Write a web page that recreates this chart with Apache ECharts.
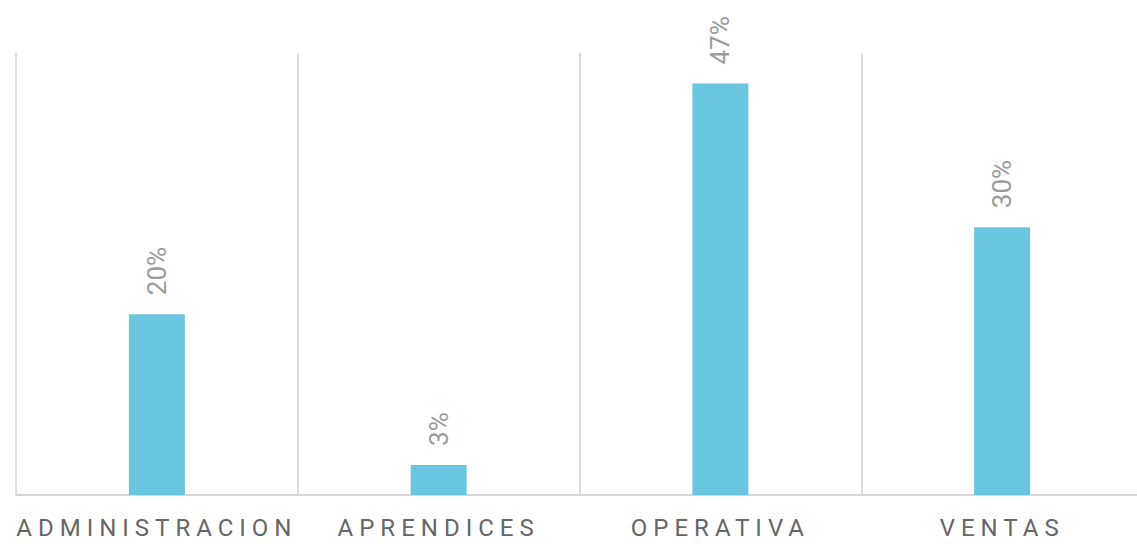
<!DOCTYPE html>
<html>
<head>
<meta charset="utf-8">
<script src="https://cdn.jsdelivr.net/npm/echarts@6/dist/echarts.min.js"></script>
<style>
  html, body { margin: 0; padding: 0; background: #fff; }
  #chart { width: 1137px; height: 544px; }
  /* spaced-out category labels */
  #chart text[fill="#666666"] { letter-spacing: 6px; }
</style>
</head>
<body>
<div id="chart"></div>
<script>
const categories = ['ADMINISTRACION', 'APRENDICES', 'OPERATIVA', 'VENTAS']
const shares = [20.45, 3.4, 46.55, 30.3] // percent

const chart = echarts.init(document.getElementById('chart'), null, { renderer: 'svg' })

chart.setOption({
  animation: false,
  grid: {
    left: 16,
    top: 53,
    width: 1127,
    bottom: 49,
    outerBoundsMode: 'none'
  },
  xAxis: {
    type: 'category',
    data: categories,
    axisTick: { show: false },
    axisLine: {
      lineStyle: { color: '#d6d6d6', width: 2 }
    },
    splitLine: {
      show: true,
      lineStyle: { color: '#dcdcdc', width: 2 }
    },
    axisLabel: {
      color: '#666666',
      fontFamily: 'Roboto',
      fontSize: 24,
      margin: 21
    }
  },
  yAxis: {
    type: 'value',
    min: 0,
    max: 50,
    show: false
  },
  series: [{
    type: 'bar',
    data: shares,
    barWidth: 56,
    itemStyle: { color: '#6ac5de' },
    label: {
      show: true,
      position: 'top',
      distance: 19,
      rotate: 90,
      align: 'left',
      verticalAlign: 'middle',
      color: '#9a9a9a',
      fontFamily: 'Roboto',
      fontSize: 26,
      formatter: p => Math.round(p.value) + '%'
    }
  }]
})
</script>
</body>
</html>
